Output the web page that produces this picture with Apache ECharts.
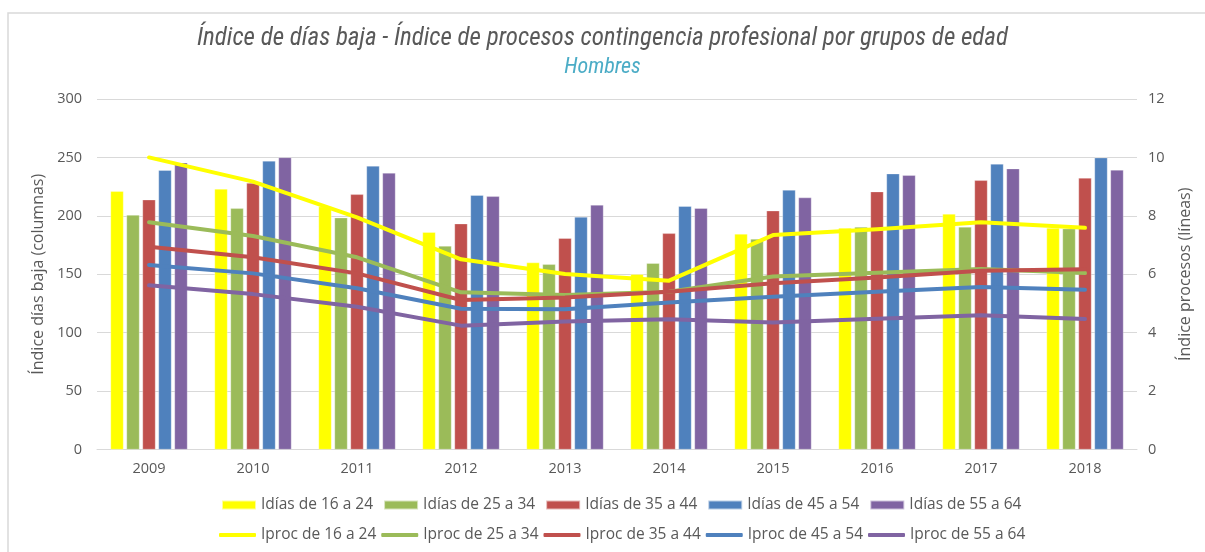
<!DOCTYPE html>
<html>
<head>
<meta charset="utf-8">
<script src="https://cdn.jsdelivr.net/npm/echarts@6/dist/echarts.min.js"></script>
<style>html,body{margin:0;padding:0;background:#fff}#c{width:1205px;height:552px}</style>
</head>
<body>
<div id="c"></div>
<script>
const years = ['2009','2010','2011','2012','2013','2014','2015','2016','2017','2018'];
const leftTicks = [0,50,100,150,200,250,300];
const rightTicks = [0,2,4,6,8,10,12];

const idias16 = [221,223,208,186,160,150,184.5,189.6,201.6,189.6];
const idias25 = [200.7,206.4,198.4,174.2,158.5,159.4,180.2,190.5,190.5,189];
const idias35 = [213.8,228,218.4,193.3,180.8,185,204.4,220.7,230.4,232.4];
const idias45 = [239,247,242.7,217.6,199,208.2,222.1,236.1,244.4,249.8];
const idias55 = [245.5,250,236.7,216.7,209.3,206.5,215.6,234.7,240.4,239.3];

const iproc16 = [10.0,9.17,7.95,6.51,6.01,5.78,7.34,7.54,7.78,7.59];
const iproc25 = [7.78,7.31,6.58,5.38,5.29,5.40,5.92,6.05,6.18,6.04];
const iproc35 = [6.94,6.58,6.03,5.12,5.20,5.40,5.69,5.89,6.12,6.17];
const iproc45 = [6.32,6.03,5.52,4.82,4.80,5.03,5.23,5.40,5.56,5.47];
const iproc55 = [5.62,5.32,4.89,4.24,4.38,4.46,4.35,4.48,4.60,4.47];

const colors = ['#FFFF00','#9BBB59','#C0504D','#4F81BD','#8064A2'];
const barNames = ['Idías de 16 a 24','Idías de 25 a 34','Idías de 35 a 44','Idías de 45 a 54','Idías de 55 a 64'];
const lineNames = ['Iproc de 16 a 24','Iproc de 25 a 34','Iproc de 35 a 44','Iproc de 45 a 54','Iproc de 55 a 64'];
const barData = [idias16,idias25,idias35,idias45,idias55];
const lineData = [iproc16,iproc25,iproc35,iproc45,iproc55];

const font = '"Open Sans", "Noto Sans", sans-serif';
const titleFont = '"Roboto Condensed", "Open Sans", sans-serif';
const series = [];
barData.forEach((d,i)=>series.push({
  name: barNames[i], type:'bar', yAxisIndex:0, data:d,
  barWidth:13, barGap:'23%',
  itemStyle:{color:colors[i], borderColor:'rgba(255,255,255,0.6)', borderWidth:0.5},
  emphasis:{disabled:true}
}));
lineData.forEach((d,i)=>series.push({
  name: lineNames[i], type:'line', yAxisIndex:1, data:d,
  symbol:'none', lineStyle:{color:colors[i], width:4, cap:'round', join:'round'},
  itemStyle:{color:colors[i]}, z:5, emphasis:{disabled:true}
}));

const chart = echarts.init(document.getElementById('c'), null, {renderer:'canvas'});
chart.setOption({
  animation:false,
  backgroundColor:'#fff',
  graphic:[{type:'rect', shape:{x:8, y:13, width:1205, height:560}, style:{fill:'none', stroke:'#d9d9d9', lineWidth:1.5}, z:-1}],
  title:{
    text:'Índice de días baja - Índice de procesos contingencia profesional por grupos de edad',
    subtext:'Hombres', left:'center', top:21, itemGap:5,
    textStyle:{fontFamily:titleFont, fontStyle:'italic', fontWeight:'normal', fontSize:25, color:'#595959'},
    subtextStyle:{fontFamily:titleFont, fontStyle:'italic', fontSize:22, color:'#4BACC6'}
  },
  grid:{left:97, right:68, top:99, bottom:102.5},
  legend:[
    {data:barNames, left:216, top:492, itemWidth:34, itemHeight:9, itemGap:10, icon:'rect',
     textStyle:{fontFamily:font, fontSize:15.5, color:'#595959', width:114, overflow:'none'}},
    {data:lineNames, left:214, top:522, itemWidth:37, itemHeight:4, itemGap:5, icon:'roundRect',
     textStyle:{fontFamily:font, fontSize:15.5, color:'#595959', width:114, overflow:'none'}}
  ],
  xAxis:{type:'category', data:years,
    axisLine:{lineStyle:{color:'#d9d9d9', width:1}}, axisTick:{show:false},
    axisLabel:{fontFamily:font, fontSize:14.5, color:'#595959', margin:12}},
  yAxis:[
    {type:'value', min:leftTicks[0], max:leftTicks[leftTicks.length-1], interval:50,
     name:'Índice días baja (columnas)', nameLocation:'middle', nameGap:47, nameRotate:90,
     nameTextStyle:{fontFamily:font, fontSize:16, color:'#595959'},
     axisLine:{show:false}, axisTick:{show:false},
     axisLabel:{fontFamily:font, fontSize:14.5, color:'#595959', margin:15},
     splitLine:{lineStyle:{color:'#d9d9d9', width:1}}},
    {type:'value', min:rightTicks[0], max:rightTicks[rightTicks.length-1], interval:2,
     name:'Índice procesos (líneas)', nameLocation:'middle', nameGap:40, nameRotate:90,
     nameTextStyle:{fontFamily:font, fontSize:16, color:'#595959'},
     axisLine:{show:false}, axisTick:{show:false},
     axisLabel:{fontFamily:font, fontSize:14.5, color:'#595959', margin:11},
     splitLine:{show:false}}
  ],
  series: series
});
</script>
</body>
</html>
